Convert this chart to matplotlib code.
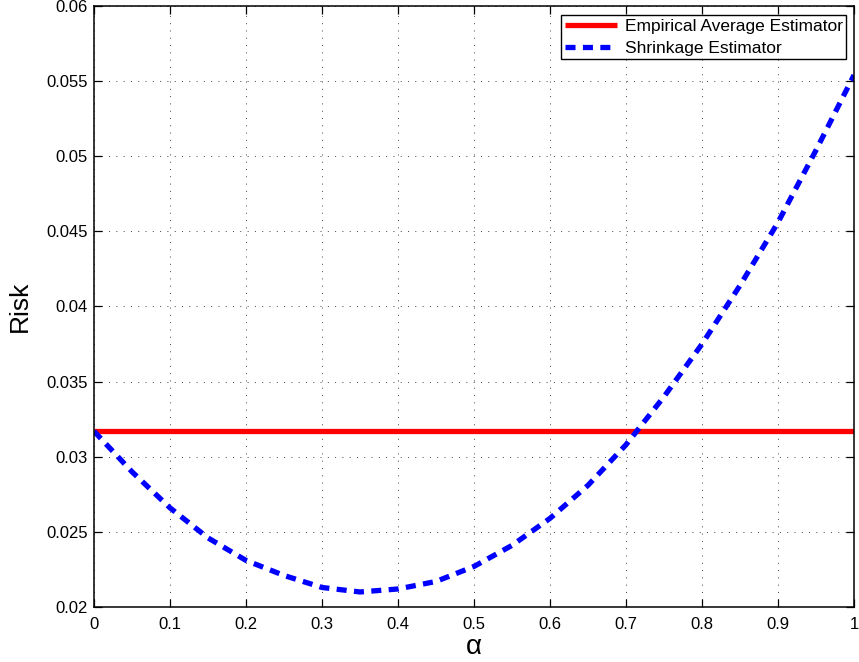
import numpy as np
import matplotlib
matplotlib.use("Agg")
import matplotlib.pyplot as plt
from matplotlib.ticker import FormatStrFormatter

# values
alpha = [0.0, 0.05, 0.1, 0.15, 0.2, 0.25, 0.3, 0.35, 0.4, 0.45, 0.5,
         0.55, 0.6, 0.65, 0.7, 0.75, 0.8, 0.85, 0.9, 0.95, 1.0]
risk_shrinkage = [0.0317, 0.0290, 0.0266, 0.0246, 0.0231, 0.0221, 0.0213,
                  0.0210, 0.0212, 0.0217, 0.0227, 0.0241, 0.0259, 0.0281,
                  0.0308, 0.0340, 0.0375, 0.0414, 0.0456, 0.0504, 0.0554]
risk_empirical = 0.0317

x_ticks = [0, 0.1, 0.2, 0.3, 0.4, 0.5, 0.6, 0.7, 0.8, 0.9, 1]
y_ticks = [0.02, 0.025, 0.03, 0.035, 0.04, 0.045, 0.05, 0.055, 0.06]

plt.rcParams['font.family'] = ['Liberation Sans', 'DejaVu Sans']

fig = plt.figure(figsize=(8.59, 6.62), dpi=100)
ax = fig.add_axes([94 / 859, 55 / 662, 760 / 859, 601 / 662])

# curves
ax.plot([alpha[0], alpha[-1]], [risk_empirical, risk_empirical],
        color='#ff0000', linewidth=3.8, solid_capstyle='butt',
        label='Empirical Average Estimator', zorder=3)
ax.plot(alpha, risk_shrinkage, color='#0000ff', linewidth=3.8,
        dashes=(1.9, 1.4), dash_capstyle='butt',
        label='Shrinkage Estimator', zorder=4)

ax.set_xlim(0, 1)
ax.set_ylim(0.02, 0.06)
ax.set_xticks(x_ticks)
ax.set_yticks(y_ticks)
ax.xaxis.set_major_formatter(FormatStrFormatter('%g'))
ax.yaxis.set_major_formatter(FormatStrFormatter('%g'))
ax.tick_params(direction='in', length=5.5, width=0.9, labelsize=12,
               top=True, right=True, pad=4.5)
ax.tick_params(axis='x', pad=7)

# MATLAB-ish dotted grid
ax.grid(True, color='0.25', linestyle=(0, (1, 6.5)), linewidth=0.7)
ax.set_axisbelow(True)
for sp in ax.spines.values():
    sp.set_linewidth(1.1)
    sp.set_zorder(5)

ax.set_xlabel('α', fontsize=20, labelpad=2)
ax.set_ylabel('Risk', fontsize=19, labelpad=10)

leg = ax.legend(loc='upper right',
                bbox_to_anchor=((846 - 94) / 760, (607 - 15) / 601),
                borderaxespad=0, fontsize=12.5, fancybox=False,
                edgecolor='black', framealpha=1, handlelength=3.0,
                handletextpad=0.45, borderpad=0.2, labelspacing=0.4)
leg.get_frame().set_linewidth(1.0)

fig.savefig('out.png', dpi=100)
